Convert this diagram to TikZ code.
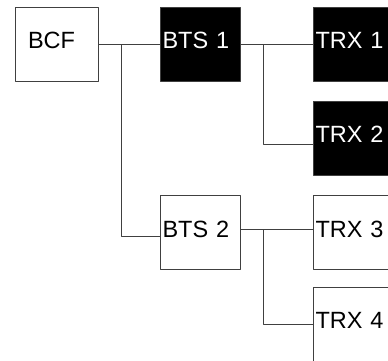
\documentclass[tikz,border=0pt]{standalone}
\usepackage{fontspec}
\setmainfont{Liberation Sans}
\begin{document}
\begin{tikzpicture}[x=1pt,y=-1pt,line join=round,
	unit/.style={draw=black!75,line width=1pt,minimum width=80pt,minimum height=74pt,
		inner sep=0pt,text width=75pt,text depth=7pt,align=left,font=\fontsize{23.5}{28}\selectfont},
	dark/.style={unit,fill=black,text=white},
	wire/.style={draw=black!75,line width=1pt}]
	\clip (0,0) rectangle (388,360);
	% boxes
	\node[unit,minimum width=83pt,text width=57pt] (bcf) at (56.5,44) {BCF};
	\node[dark] (bts1) at (200,44) {BTS 1};
	\node[unit] (bts2) at (200,232.5) {BTS 2};
	\node[dark] (trx1) at (353,44) {TRX 1};
	\node[dark] (trx2) at (353,138) {TRX 2};
	\node[unit] (trx3) at (353,232.5) {TRX 3};
	\node[unit] (trx4) at (353,324) {TRX 4};
	% links
	\coordinate (j1) at (121,44);
	\coordinate (j2) at (263,44);
	\coordinate (j3) at (263,229);
	\draw[wire] (bcf.east) -- (bts1.west);
	\draw[wire] (j1) |- ([yshift=-3.5pt]bts2.west);
	\draw[wire] (bts1.east) -- (trx1.west);
	\draw[wire] (j2) |- ([yshift=-6pt]trx2.west);
	\draw[wire] ([yshift=3.5pt]bts2.east) -- ([yshift=3.5pt]trx3.west);
	\draw[wire] (j3) |- (trx4.west);
\end{tikzpicture}
\end{document}
